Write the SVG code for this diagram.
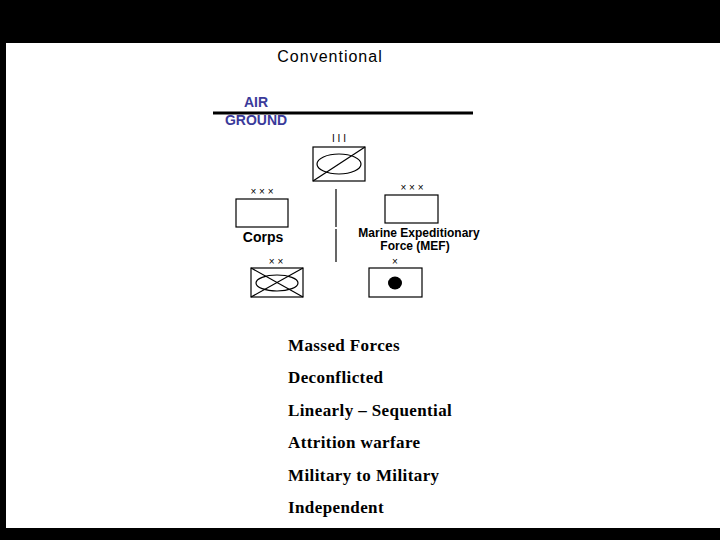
<svg xmlns="http://www.w3.org/2000/svg" width="720" height="540" viewBox="0 0 720 540">
<style>
.b{fill:#fff;stroke:#000;stroke-width:1.2}
.l{stroke:#000;stroke-width:1.2;fill:none}
.s{font-family:"Liberation Sans",Arial,sans-serif;fill:#000}
.ag{font-family:"Liberation Sans",Arial,sans-serif;font-weight:bold;font-size:14px;fill:#3a3a9a}
.t{font-family:"Liberation Serif","Times New Roman",serif;font-weight:bold;font-size:17px;letter-spacing:0.4px;fill:#000}
.e{font-family:"Liberation Sans",Arial,sans-serif;font-size:10px;fill:#000;text-anchor:middle}
</style>
<rect width="720" height="540" fill="#000"/>
<rect x="6" y="43" width="714" height="485" fill="#fff"/>
<text class="s" x="330" y="62" font-size="16" letter-spacing="1" text-anchor="middle">Conventional</text>
<text class="ag" x="256" y="107" text-anchor="middle">AIR</text>
<text class="ag" x="256" y="125" text-anchor="middle">GROUND</text>
<g id="connectors"><line x1="213" y1="113" x2="473" y2="113" stroke="#000" stroke-width="3"/><line class="l" x1="336" y1="189" x2="336" y2="227"/><line class="l" x1="336" y1="229" x2="336" y2="262"/></g>
<g id="top"><text class="e" x="339" y="142">I I I</text><rect class="b" x="313" y="147" width="52" height="34"/><ellipse class="l" cx="339" cy="164" rx="22" ry="10"/><line class="l" x1="313" y1="181" x2="365" y2="147"/></g>
<g id="corps"><text class="e" x="262" y="195">× × ×</text><rect class="b" x="236" y="199" width="52" height="28"/><text class="s" x="263" y="242" font-size="14" font-weight="bold" text-anchor="middle">Corps</text></g>
<g id="mef"><text class="e" x="412" y="191">× × ×</text><rect class="b" x="385" y="195" width="53" height="28"/><text class="s" x="419" y="237" font-size="12" font-weight="bold" text-anchor="middle">Marine Expeditionary</text><text class="s" x="415" y="250" font-size="12" font-weight="bold" text-anchor="middle">Force (MEF)</text></g>
<g id="div"><text class="e" x="276" y="265">× ×</text><rect class="b" x="251" y="268" width="52" height="29"/><line class="l" x1="251" y1="268" x2="303" y2="297"/><line class="l" x1="251" y1="297" x2="303" y2="268"/><ellipse class="l" cx="277" cy="283" rx="21" ry="8"/></g>
<g id="bde"><text class="e" x="395" y="265">×</text><rect class="b" x="369" y="268" width="53" height="29"/><ellipse cx="395" cy="283" rx="7" ry="6.5" fill="#000"/></g>
<g id="list">
<text class="t" x="288" y="351">Massed Forces</text>
<text class="t" x="288" y="383">Deconflicted</text>
<text class="t" x="288" y="416">Linearly – Sequential</text>
<text class="t" x="288" y="448">Attrition warfare</text>
<text class="t" x="288" y="481">Military to Military</text>
<text class="t" x="288" y="513">Independent</text>
</g>
</svg>
